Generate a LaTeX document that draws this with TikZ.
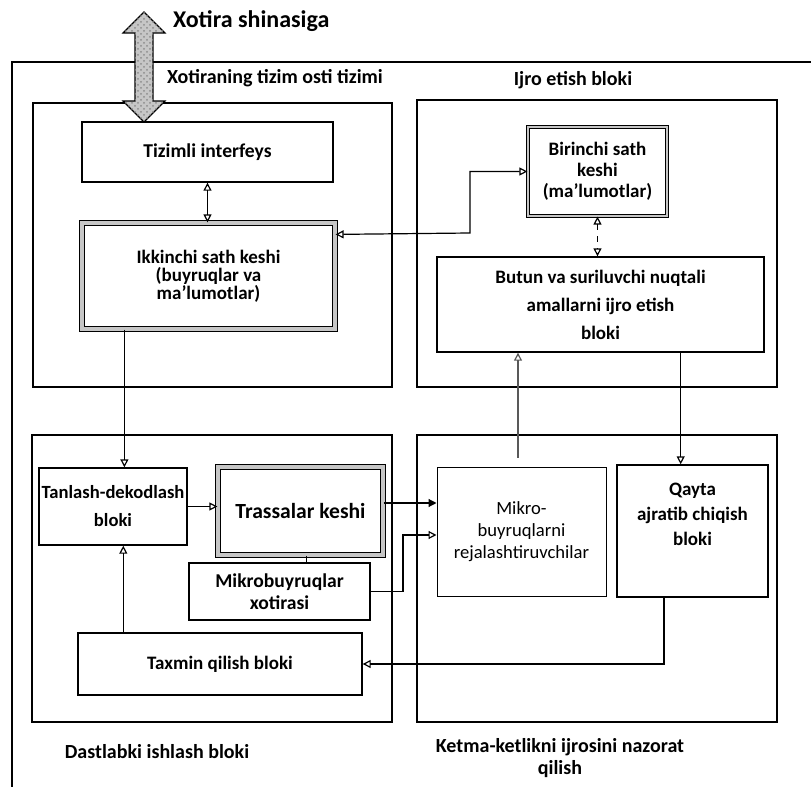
\documentclass[tikz,border=0pt]{standalone}
\usepackage{fontspec}
\setmainfont{Carlito}
\usetikzlibrary{
  positioning,
  arrows.meta,
  calc,
  patterns
}

\begin{document}
\begin{tikzpicture}[
  x=0.5pt, y=-0.5pt,
  every node/.style={font=\fontsize{10}{11}\selectfont\bfseries},
  blok/.style={draw, line width=0.7pt, align=center, inner sep=1pt, font=\fontsize{9.5}{11}\selectfont\bfseries},
  rough/.style={blok, double=gray!45, double distance=2pt, line width=0.6pt},
  frame/.style={draw, line width=0.8pt, inner sep=0pt},
  arr/.style={-{Triangle[open, length=4pt, width=4pt]}, line width=0.6pt},
  biarr/.style={{Triangle[open, length=4pt, width=4pt]}-{Triangle[open, length=4pt, width=4pt]}, line width=0.6pt},
  farr/.style={-{Triangle[length=4pt, width=4pt]}, line width=0.6pt},
]
  \useasboundingbox (0,0) rectangle (811,787);

  % Outer frame (top and left edges only)
  \draw[line width=0.8pt] (811,62) -- (12,62) -- (12,787);

  % Group frames
  \node[frame, minimum width=179.5pt, minimum height=142pt] (xts) at (212.5,245) {};
  \node[frame, minimum width=180pt, minimum height=143.5pt] (ijro) at (597,243.5) {};
  \node[frame, minimum width=180pt, minimum height=143.5pt] (dast) at (212,578.5) {};
  \node[frame, minimum width=180pt, minimum height=143.5pt] (ketma) at (597,578.5) {};

  % Memory bus arrow
  \draw[line width=0.6pt, fill=gray!45, postaction={pattern=crosshatch dots, pattern color=gray!90}]
    (144,12) -- (165,33) -- (153,33) -- (153,101) -- (165,101) -- (144,122)
    -- (123,101) -- (135,101) -- (135,33) -- (123,33) -- cycle;

  % Titles
  \node[anchor=west, font=\fontsize{12}{13}\selectfont\bfseries] (busl) at (166,21) {Xotira shinasiga};
  \node[anchor=west] (xtsl) at (160,78) {Xotiraning tizim osti tizimi};
  \node (ijrol) at (573,80) {Ijro etish bloki};
  \node (dastl) at (157,752) {Dastlabki ishlash bloki};
  \node[align=center] (ketmal) at (560,758) {Ketma-ketlikni ijrosini nazorat\\qilish};

  % Memory subsystem
  \node[blok, minimum width=125.5pt, minimum height=30pt, font=\fontsize{9.8}{11}\selectfont\bfseries] (tizim) at (207.5,152) {Tizimli interfeys};
  \node[rough, minimum width=126.5pt, minimum height=53pt, font=\fontsize{9.5}{9}\selectfont\bfseries] (ikki) at (208.5,276)
    {Ikkinchi sath keshi\\(buyruqlar va\\ma'lumotlar)};

  % Execution block
  \node[rough, double distance=1.2pt, minimum width=69.5pt, minimum height=44.5pt, font=\fontsize{9.5}{10.5}\selectfont\bfseries] (birinchi) at (597.5,171.5)
    {Birinchi sath\\keshi\\(ma'lumotlar)};
  \node[blok, minimum width=163.5pt, minimum height=47.5pt, font=\fontsize{9.5}{14}\selectfont\bfseries] (butun) at (600.5,304.5)
    {Butun va suriluvchi nuqtali\\amallarni ijro etish\\bloki};

  % Front end
  \node[blok, minimum width=74pt, minimum height=38.5pt, font=\fontsize{9.3}{14}\selectfont\bfseries] (tanlash) at (113,506.5) {Tanlash-dekodlash\\bloki};
  \node[rough, minimum width=82.5pt, minimum height=44pt, font=\fontsize{10.8}{12}\selectfont\bfseries] (trassa) at (300.5,511)
    {Trassalar keshi};
  \node[blok, minimum width=90.5pt, minimum height=28.5pt, font=\fontsize{9.8}{11}\selectfont\bfseries] (mxotira) at (279.5,591.5) {Mikrobuyruqlar\\xotirasi};
  \node[blok, minimum width=142pt, minimum height=31pt] (taxmin) at (220,664) {Taxmin qilish bloki};

  % Sequence control
  \node[blok, line width=0.5pt, minimum width=84.5pt, minimum height=64.5pt, font=\fontsize{9.3}{11}\selectfont] (mikro) at (521.5,531.5)
    {Mikro-\\buyruqlarni\\rejalashtiruvchilar};
  \node[blok, minimum width=75.5pt, minimum height=66pt, font=\fontsize{9.5}{12.5}\selectfont\bfseries] (qayta) at (692.5,531)
    {Qayta\\ajratib chiqish\\bloki\\[4pt]};

  % Connectors
  \draw[biarr] (tizim.south) -- (tizim.south |- ikki.north);
  \coordinate (ik1) at ([yshift=-6pt]ikki.north east);
  \coordinate (bend1) at (470,233);
  \draw[biarr] (ik1) -- (bend1) |- (birinchi.west);
  \draw[biarr, dashed] (birinchi.south) -- (birinchi.south |- butun.north);

  \coordinate (ikout) at ([xshift=21.5pt]ikki.south west);
  \draw[arr] (ikout) -- (ikout |- tanlash.north);
  \coordinate (taxout) at ([xshift=23pt]taxmin.north west);
  \draw[arr] (taxout) -- (taxout |- tanlash.south);
  \draw[arr] (tanlash.east) -- (tanlash.east -| trassa.west);
  \coordinate (trdown) at ([xshift=3pt]trassa.south);
  \draw[line width=0.6pt] (trdown) -- (trdown |- mxotira.north);

  \coordinate (tr1) at ([yshift=4pt]trassa.east);
  \draw[farr] (tr1) -- (tr1 -| mikro.west);
  \coordinate (bend2) at (403,591.5);
  \coordinate (mk1) at ([yshift=-1.75pt]mikro.west);
  \draw[arr] (mxotira.east) -- (bend2) |- (mk1);

  \coordinate (mkup) at ([xshift=-1.75pt, yshift=4.5pt]mikro.north);
  \draw[arr, gray!70!black] (mkup) -- (mkup |- butun.south);
  \coordinate (bq) at ([xshift=-42pt]butun.south east);
  \draw[arr] (bq) -- (bq |- qayta.north);
  \coordinate (qb) at ([xshift=-14.25pt]qayta.south);
  \draw[arr] (qb) |- (taxmin.east);

\end{tikzpicture}
\end{document}
